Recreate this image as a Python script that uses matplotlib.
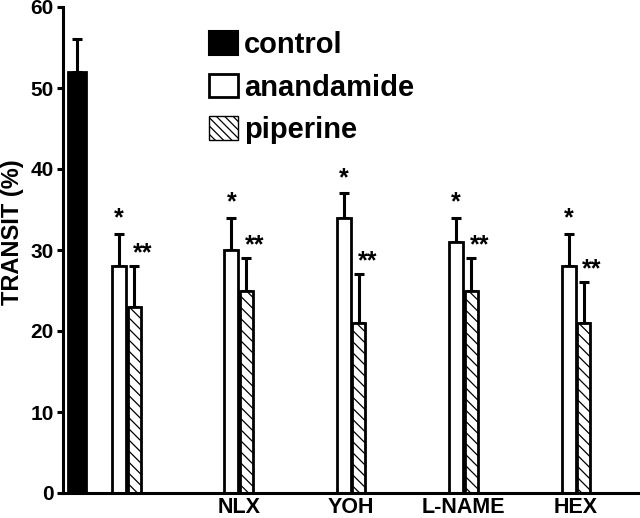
import matplotlib
matplotlib.use("Agg")
import matplotlib.pyplot as plt
import numpy as np
from matplotlib.patches import Patch

plt.rcParams['font.family'] = ['Liberation Sans', 'DejaVu Sans']
plt.rcParams['font.weight'] = 'bold'
plt.rcParams['hatch.linewidth'] = 0.9
plt.rcParams['hatch.color'] = '#444444'

# Data
groups = ["", "NLX", "YOH", "L-NAME", "HEX"]
control_value = 52
control_err = 4
anandamide = [28, 30, 34, 31, 28]
anandamide_err = [4, 4, 3, 3, 4]
piperine = [23, 25, 21, 25, 21]
piperine_err = [5, 4, 6, 4, 5]
anand_marks = ["*", "*", "*", "*", "*"]
pip_marks = ["**", "**", "**", "**", "**"]
yticks = [0, 10, 20, 30, 40, 50, 60]

fig = plt.figure(figsize=(6.4, 5.18), dpi=100)
ax = fig.add_axes([63/640, 1-493/518, 1-63/640, (493-7)/518])

x = np.arange(len(groups))
wa = 0.125
wp = 0.115
xa = x - 0.067
xp = x + 0.067
xc = -0.44

lw = 2.0
ekw = dict(elinewidth=2.2, capthick=2.2, ecolor='black', capsize=3.5)

ax.bar(xc, control_value, width=0.16, color='black', edgecolor='black',
       linewidth=lw, zorder=2)
ax.errorbar(xc, control_value, yerr=[[0], [control_err]], fmt='none', **ekw, zorder=1)

ax.bar(xa, anandamide, width=wa, color='white', edgecolor='black',
       linewidth=lw, zorder=2)
ax.errorbar(xa, anandamide, yerr=[np.zeros(len(x)), anandamide_err], fmt='none',
            **ekw, zorder=1)
ax.bar(xp, piperine, width=wp, color='white', edgecolor='black',
       linewidth=lw, hatch='\\\\\\', zorder=2)
ax.errorbar(xp, piperine, yerr=[np.zeros(len(x)), piperine_err], fmt='none',
            **ekw, zorder=1)

for i in range(len(x)):
    ya = anandamide[i] + anandamide_err[i] + 2.9
    ax.annotate(anand_marks[i], (xa[i], ya), xytext=(0, -5.8),
                textcoords='offset points', ha='center', va='center',
                fontsize=18, fontweight='bold')
    yp = piperine[i] + piperine_err[i] + 2.6
    ax.annotate(pip_marks[i], (xp[i] + 0.075, yp), xytext=(0, -5.8),
                textcoords='offset points', ha='center', va='center',
                fontsize=18, fontweight='bold')

ax.set_xlim(-0.565, 4.568)
ax.set_ylim(0, 60)
ax.set_yticks(yticks)
ax.set_yticklabels([str(t) for t in yticks], fontsize=15, fontweight='bold')
ax.set_xticks(x)
ax.set_xticklabels(groups, fontsize=15.5, fontweight='bold')
ax.tick_params(axis='x', length=0, pad=3)
ax.tick_params(axis='y', length=4.5, width=2.2, pad=2, direction='out')

for s in ['top', 'right']:
    ax.spines[s].set_visible(False)
ax.spines['left'].set_linewidth(2.2)
ax.spines['bottom'].set_linewidth(2.2)
ax.spines['left'].set_bounds(0, 60)

fig.text(13/640, 1-232/518, "TRANSIT (%)", rotation=90, ha='center', va='center',
         fontsize=17, fontweight='bold')

handles = [Patch(facecolor='black', edgecolor='black', linewidth=1.5),
           Patch(facecolor='white', edgecolor='black', linewidth=2.0),
           Patch(facecolor='white', edgecolor='black', linewidth=1.0, hatch='\\\\\\\\')]
leg = fig.legend(handles, ["control", "anandamide", "piperine"],
                 loc='upper left', bbox_to_anchor=(209/640, 1-31/518),
                 frameon=False, fontsize=21, handlelength=1.0, handleheight=0.85,
                 handletextpad=0.2, labelspacing=0.5, borderpad=0, borderaxespad=0)
for t in leg.get_texts():
    t.set_fontweight('bold')

fig.savefig("out.png", dpi=100)
